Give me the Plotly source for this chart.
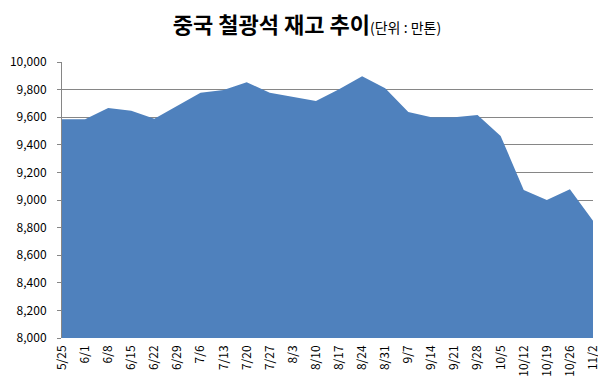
import plotly.graph_objects as go

dates = ["5/25", "6/1", "6/8", "6/15", "6/22", "6/29", "7/6", "7/13", "7/20", "7/27",
         "8/3", "8/10", "8/17", "8/24", "8/31", "9/7", "9/14", "9/21", "9/28", "10/5",
         "10/12", "10/19", "10/26", "11/2"]
stock = [9585, 9585, 9667, 9647, 9589, 9683, 9778, 9797, 9853, 9778,
         9749, 9717, 9802, 9896, 9809, 9637, 9599, 9599, 9616, 9464,
         9072, 9000, 9078, 8849]
yticks = list(range(8000, 10001, 200))

fig = go.Figure()
fig.add_trace(go.Scatter(
    x=list(range(len(dates))), y=stock, mode="lines", fill="tozeroy",
    line=dict(width=0, color="#4F81BD"), fillcolor="#4F81BD",
    hoverinfo="x+y",
))

font = "Malgun Gothic, Noto Sans CJK KR, sans-serif"
fig.update_layout(
    width=598, height=378,
    margin=dict(l=54, r=13, t=54, b=48, autoexpand=False),
    paper_bgcolor="white", plot_bgcolor="white",
    showlegend=False,
    font=dict(family=font, size=12, color="#000000"),
    title=dict(
        text="<b>중국 철광석 재고 추이</b><span style='font-size:14px'>(단위 : 만톤)</span>",
        x=0.5, xanchor="center", y=0.955, yanchor="middle",
        font=dict(family=font, size=22, color="#000000"),
    ),
    xaxis=dict(
        range=[0, len(dates) - 1],
        tickmode="array", tickvals=list(range(len(dates))), ticktext=dates,
        tickangle=-90, showgrid=False, zeroline=False,
        showline=False, ticks="", tickfont=dict(size=12),
        ticklabelstandoff=4, automargin=False,
    ),
    yaxis=dict(
        range=[8000, 10000], tickmode="array", tickvals=yticks,
        ticktext=[f"{v:,}" for v in yticks],
        showgrid=True, gridcolor="#868686", gridwidth=1,
        zeroline=False, showline=True, linecolor="#868686", linewidth=1,
        ticks="outside", ticklen=4, tickcolor="#868686",
        tickfont=dict(size=12), ticklabelstandoff=8, automargin=False,
    ),
)
fig.write_html("out.html")
